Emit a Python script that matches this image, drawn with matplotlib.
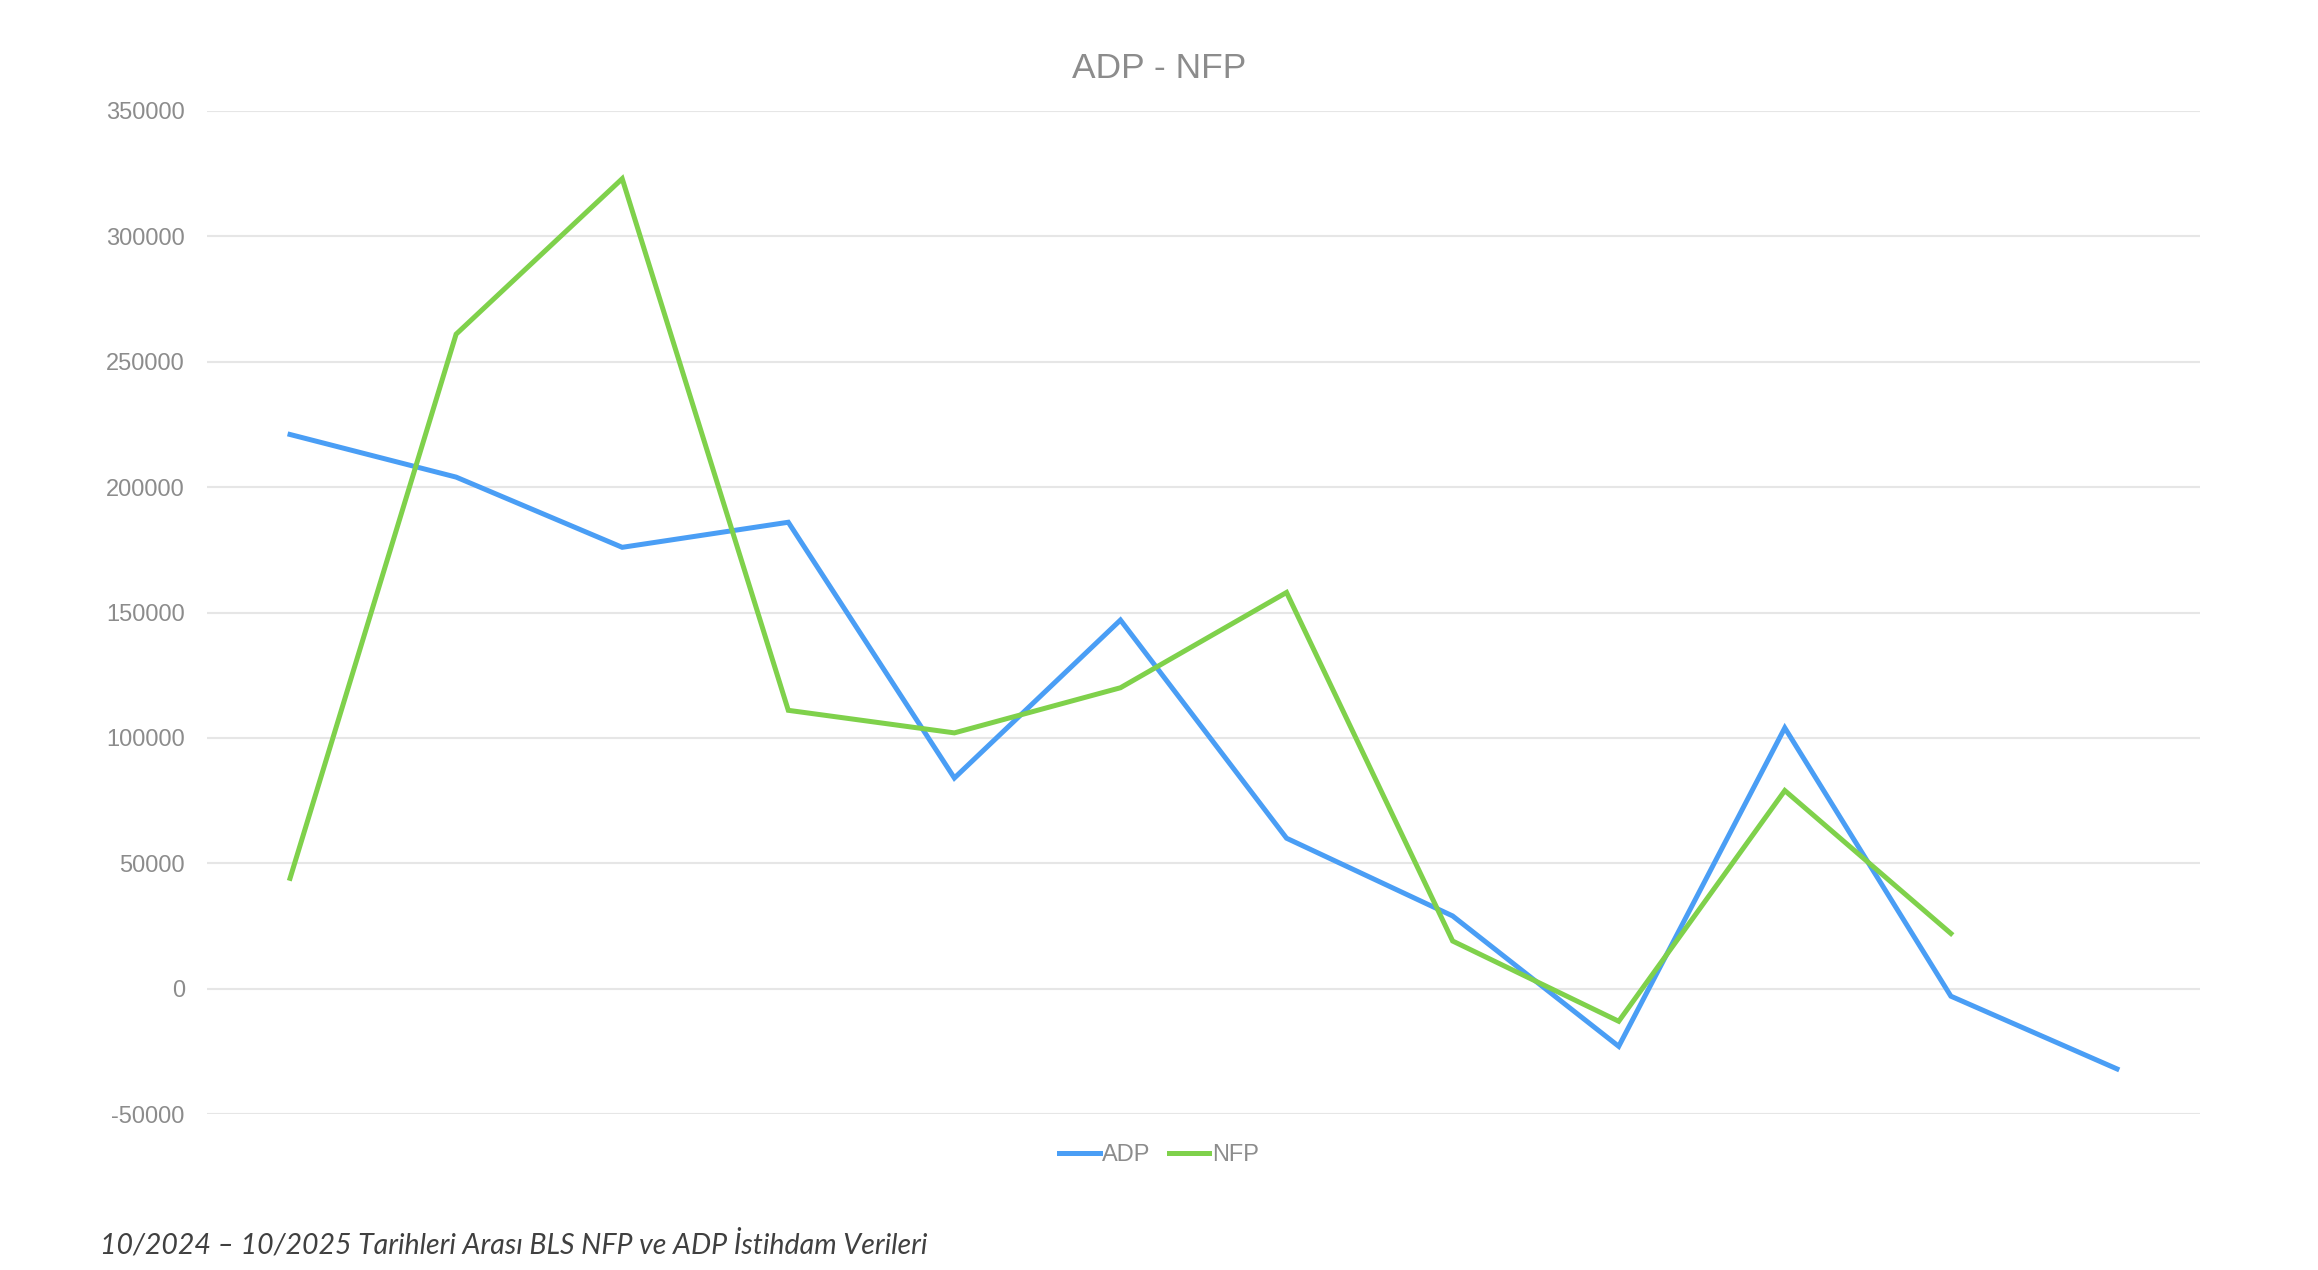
import numpy as np
import matplotlib.pyplot as plt
from matplotlib.ticker import MultipleLocator

# Monthly values, 10/2024 - 10/2025
months = np.arange(12)
adp = [221000, 204000, 176000, 186000, 84000, 147000, 60000, 29000, -23000, 104000, -3000, -32000]
nfp = [44000, 261000, 323000, 111000, 102000, 120000, 158000, 19000, -13000, 79000, 22000]

title = "ADP - NFP"
caption = "10/2024 \u2013 10/2025 Tarihleri Aras\u0131 BLS NFP ve ADP \u0130stihdam Verileri"

blue = "#4A9EF5"
green = "#7FD14B"
grey = "#8C8C8C"

plt.rcParams['font.family'] = ['Liberation Sans', 'DejaVu Sans']
plt.rcParams['axes.unicode_minus'] = False

fig = plt.figure(figsize=(23.18, 12.70), dpi=100)
ax = fig.add_axes([0.0893, 0.1228, 0.9491 - 0.0893, 0.9126 - 0.1228])

ax.plot(months, adp, color=blue, linewidth=3.6, label="ADP", solid_joinstyle='miter')
ax.plot(months[:len(nfp)], nfp, color=green, linewidth=3.6, label="NFP", solid_joinstyle='miter')

ax.set_xlim(-0.5, 11.5)
ax.set_ylim(-50000, 350000)
ax.yaxis.set_major_locator(MultipleLocator(50000))
ax.set_xticks([])
ax.tick_params(axis='y', length=0, pad=16, labelsize=17, labelcolor=grey)
for s in ax.spines.values():
    s.set_visible(False)
ax.grid(axis='y', color="#E6E6E6", linewidth=1.5)
ax.set_axisbelow(True)

fig.text(0.5, 1 - 69 / 1270, title, ha='center', va='center', fontsize=25.5, color=grey)

fig.legend(loc='center', bbox_to_anchor=(0.5, 1 - 1155 / 1270), ncol=2, frameon=False,
           fontsize=17, labelcolor=grey, handlelength=1.7, handletextpad=0.1,
           columnspacing=0.8)

fig.text(100 / 2318, 1 - 1244 / 1270, caption, ha='left', va='center', fontsize=20.5,
         style='italic', color="#404040", family=['Lato', 'DejaVu Sans'])

fig.savefig("out.png", dpi=100)
